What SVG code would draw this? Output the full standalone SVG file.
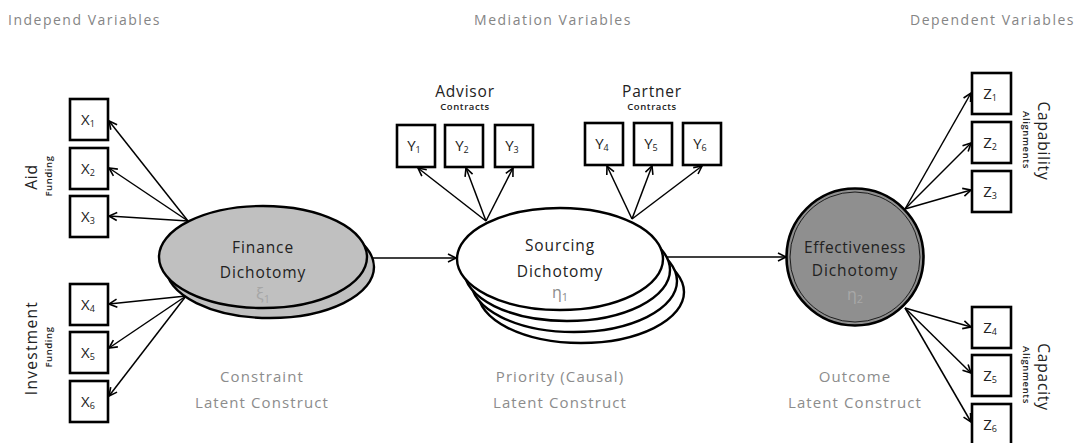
<svg xmlns="http://www.w3.org/2000/svg" width="1080" height="443" viewBox="0 0 1080 443">
<defs>
<marker id="arr" markerUnits="userSpaceOnUse" markerWidth="12" markerHeight="12" refX="9" refY="5" orient="auto" viewBox="0 0 12 10">
<path d="M1,1 L9,5 L1,9" fill="none" stroke="#000" stroke-width="1.6"/>
</marker>
</defs>
<style>
text{font-family:"Open Sans","Liberation Sans",sans-serif;}
.hdr{font-size:14px;fill:#858585;letter-spacing:1.5px;}
.lab{font-size:15px;fill:#8c8c8c;text-anchor:middle;letter-spacing:1.1px;}
.box{fill:#fff;stroke:#000;stroke-width:2.6;}
.bt{font-size:15px;fill:#222;text-anchor:middle;}
.sub{font-size:9px;}
.nt{font-size:15.5px;fill:#222;text-anchor:middle;letter-spacing:0.9px;}
.gl{font-size:16px;text-anchor:middle;}
.big{font-size:15.5px;fill:#222;text-anchor:middle;letter-spacing:0.8px;}
.sm{font-size:9.5px;font-weight:600;fill:#222;text-anchor:middle;letter-spacing:0.6px;}
.ln{stroke:#000;stroke-width:1.5;fill:none;marker-end:url(#arr);}
</style>
<rect width="1080" height="443" fill="#fff"/>

<text class="hdr" x="8" y="25">Independ Variables</text>
<text class="hdr" x="553" y="25" text-anchor="middle">Mediation Variables</text>
<text class="hdr" x="1075" y="25" text-anchor="end">Dependent Variables</text>

<g id="connectors">
<line class="ln" x1="188" y1="221" x2="109" y2="121"/>
<line class="ln" x1="188" y1="221" x2="109" y2="168"/>
<line class="ln" x1="188" y1="221" x2="109" y2="216"/>
<line class="ln" x1="186" y1="296" x2="109" y2="304"/>
<line class="ln" x1="186" y1="296" x2="109" y2="348"/>
<line class="ln" x1="186" y1="296" x2="109" y2="396"/>
<line class="ln" x1="486" y1="221" x2="418" y2="168"/>
<line class="ln" x1="486" y1="221" x2="466" y2="168"/>
<line class="ln" x1="486" y1="221" x2="513" y2="168"/>
<line class="ln" x1="632" y1="219" x2="607" y2="166"/>
<line class="ln" x1="632" y1="219" x2="652" y2="166"/>
<line class="ln" x1="632" y1="219" x2="702" y2="166"/>
<line class="ln" x1="905" y1="209" x2="971" y2="93"/>
<line class="ln" x1="905" y1="209" x2="971" y2="143"/>
<line class="ln" x1="905" y1="209" x2="971" y2="190"/>
<line class="ln" x1="905" y1="308" x2="971" y2="327"/>
<line class="ln" x1="905" y1="308" x2="971" y2="373"/>
<line class="ln" x1="905" y1="308" x2="971" y2="422"/>
<line class="ln" x1="369" y1="258" x2="456" y2="258"/>
<line class="ln" x1="664" y1="257" x2="786" y2="257"/>
</g>

<g id="aid-label">
<text class="big" transform="translate(37,177) rotate(-90)">Aid</text>
<text class="sm" transform="translate(52,176) rotate(-90)">Funding</text>
</g>
<g id="investment-label">
<text class="big" transform="translate(37,348) rotate(-90)" style="letter-spacing:1.3px">Investment</text>
<text class="sm" transform="translate(52,347) rotate(-90)">Funding</text>
</g>

<g id="X1"><rect class="box" x="70" y="99" width="38" height="41"/><text class="bt" x="88" y="125">X<tspan class="sub" dy="2">1</tspan></text></g>
<g id="X2"><rect class="box" x="70" y="148" width="38" height="41"/><text class="bt" x="88" y="174">X<tspan class="sub" dy="2">2</tspan></text></g>
<g id="X3"><rect class="box" x="70" y="196" width="38" height="41"/><text class="bt" x="88" y="222">X<tspan class="sub" dy="2">3</tspan></text></g>
<g id="X4"><rect class="box" x="70" y="284" width="38" height="41"/><text class="bt" x="88" y="310">X<tspan class="sub" dy="2">4</tspan></text></g>
<g id="X5"><rect class="box" x="70" y="332" width="38" height="41"/><text class="bt" x="88" y="358">X<tspan class="sub" dy="2">5</tspan></text></g>
<g id="X6"><rect class="box" x="70" y="381" width="38" height="41"/><text class="bt" x="88" y="407">X<tspan class="sub" dy="2">6</tspan></text></g>

<g id="finance">
<ellipse cx="270" cy="267" rx="104" ry="51" fill="#c0c0c0" stroke="#000" stroke-width="2.4"/>
<ellipse cx="263" cy="257" rx="104" ry="51" fill="#c0c0c0" stroke="#000" stroke-width="2.4"/>
<text class="nt" x="263" y="253">Finance</text>
<text class="nt" x="263" y="278">Dichotomy</text>
<text class="gl" x="263" y="300" fill="#a6a6a6">ξ<tspan font-size="11" dy="3">1</tspan></text>
</g>

<g id="advisor-label">
<text class="big" x="465" y="97">Advisor</text>
<text class="sm" x="465" y="110">Contracts</text>
</g>
<g id="partner-label">
<text class="big" x="652" y="97">Partner</text>
<text class="sm" x="652" y="110">Contracts</text>
</g>

<g id="Y1"><rect class="box" x="397" y="125" width="38" height="42"/><text class="bt" x="414" y="151">Y<tspan class="sub" dy="2">1</tspan></text></g>
<g id="Y2"><rect class="box" x="445" y="125" width="38" height="42"/><text class="bt" x="462" y="151">Y<tspan class="sub" dy="2">2</tspan></text></g>
<g id="Y3"><rect class="box" x="495" y="125" width="38" height="42"/><text class="bt" x="512" y="151">Y<tspan class="sub" dy="2">3</tspan></text></g>
<g id="Y4"><rect class="box" x="585" y="123" width="38" height="42"/><text class="bt" x="602" y="149">Y<tspan class="sub" dy="2">4</tspan></text></g>
<g id="Y5"><rect class="box" x="634" y="123" width="38" height="42"/><text class="bt" x="651" y="149">Y<tspan class="sub" dy="2">5</tspan></text></g>
<g id="Y6"><rect class="box" x="683" y="123" width="38" height="42"/><text class="bt" x="700" y="149">Y<tspan class="sub" dy="2">6</tspan></text></g>

<g id="sourcing">
<ellipse cx="581" cy="292" rx="103" ry="51" fill="#fff" stroke="#000" stroke-width="2.4"/>
<ellipse cx="574" cy="281" rx="103" ry="51" fill="#fff" stroke="#000" stroke-width="2.4"/>
<ellipse cx="567" cy="270" rx="103" ry="51" fill="#fff" stroke="#000" stroke-width="2.4"/>
<ellipse cx="560" cy="259" rx="103" ry="51" fill="#fff" stroke="#000" stroke-width="2.4"/>
<text class="nt" x="560" y="251">Sourcing</text>
<text class="nt" x="560" y="277">Dichotomy</text>
<text class="gl" x="560" y="298" fill="#8c8c8c">η<tspan font-size="11" dy="3">1</tspan></text>
</g>

<g id="effectiveness">
<circle cx="855" cy="257" r="68.5" fill="#8f8f8f" stroke="#000" stroke-width="2.6"/>
<circle cx="855" cy="257" r="65" fill="none" stroke="#000" stroke-width="0.8"/>
<text class="nt" x="855" y="253" style="letter-spacing:0.6px">Effectiveness</text>
<text class="nt" x="855" y="276">Dichotomy</text>
<text class="gl" x="855" y="300" fill="#a8a8a8">η<tspan font-size="11" dy="3">2</tspan></text>
</g>

<g id="Z1"><rect class="box" x="972" y="73" width="39" height="41"/><text class="bt" x="990" y="99">Z<tspan class="sub" dy="2">1</tspan></text></g>
<g id="Z2"><rect class="box" x="972" y="122" width="39" height="41"/><text class="bt" x="990" y="148">Z<tspan class="sub" dy="2">2</tspan></text></g>
<g id="Z3"><rect class="box" x="972" y="171" width="39" height="41"/><text class="bt" x="990" y="197">Z<tspan class="sub" dy="2">3</tspan></text></g>
<g id="Z4"><rect class="box" x="972" y="307" width="39" height="41"/><text class="bt" x="990" y="333">Z<tspan class="sub" dy="2">4</tspan></text></g>
<g id="Z5"><rect class="box" x="972" y="355" width="39" height="41"/><text class="bt" x="990" y="381">Z<tspan class="sub" dy="2">5</tspan></text></g>
<g id="Z6"><rect class="box" x="972" y="404" width="39" height="41"/><text class="bt" x="990" y="430">Z<tspan class="sub" dy="2">6</tspan></text></g>

<g id="capability-label">
<text class="big" transform="translate(1038,141) rotate(90)">Capability</text>
<text class="sm" transform="translate(1023,140) rotate(90)">Alignments</text>
</g>
<g id="capacity-label">
<text class="big" transform="translate(1038,377) rotate(90)">Capacity</text>
<text class="sm" transform="translate(1023,375) rotate(90)">Alignments</text>
</g>

<g id="bottom-labels">
<text class="lab" x="262" y="382">Constraint</text>
<text class="lab" x="262" y="408">Latent Construct</text>
<text class="lab" x="560" y="382">Priority (Causal)</text>
<text class="lab" x="560" y="408">Latent Construct</text>
<text class="lab" x="855" y="382">Outcome</text>
<text class="lab" x="855" y="408">Latent Construct</text>
</g>
</svg>
